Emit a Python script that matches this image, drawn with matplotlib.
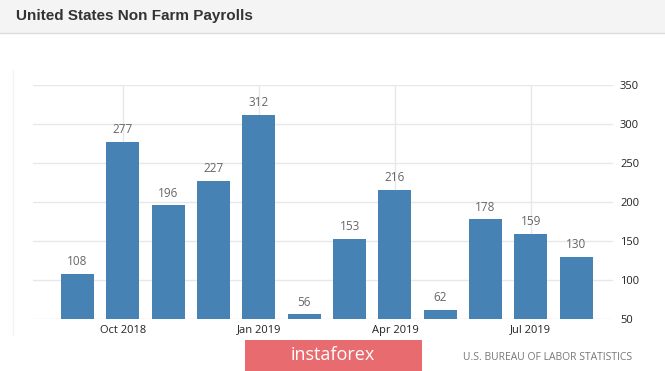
import numpy as np
import matplotlib
matplotlib.use("Agg")
import matplotlib.pyplot as plt
from matplotlib.patches import Rectangle
from matplotlib.lines import Line2D

# data (thousands of jobs), Sep 2018 .. Aug 2019
months = ["Sep 2018", "Oct 2018", "Nov 2018", "Dec 2018", "Jan 2019", "Feb 2019",
          "Mar 2019", "Apr 2019", "May 2019", "Jun 2019", "Jul 2019", "Aug 2019"]
payrolls = [108, 277, 196, 227, 312, 56, 153, 216, 62, 178, 159, 130]
tick_idx = [1, 4, 7, 10]
tick_labels = ["Oct 2018", "Jan 2019", "Apr 2019", "Jul 2019"]
y_ticks = [50, 100, 150, 200, 250, 300, 350]

W, H = 665, 371
fig = plt.figure(figsize=(W / 100, H / 100), dpi=100)
fig.patch.set_facecolor("white")

# title band
fig.patches.append(Rectangle((0, 1 - 33 / H), 1, 33 / H, transform=fig.transFigure,
                             facecolor="#f4f4f4", edgecolor="none", zorder=0))
fig.lines.append(Line2D([0, 1], [1 - 33 / H] * 2, transform=fig.transFigure,
                        color="#dcdcdc", lw=1))
fig.text(16 / W, 1 - 16 / H, "United States Non Farm Payrolls", family="Liberation Sans",
         weight="bold", size=11, color="#333333", va="center", ha="left")

# faint panel border on the left
fig.lines.append(Line2D([13 / W] * 2, [1 - 70 / H, 1 - 335 / H], transform=fig.transFigure,
                        color="#f3f3f3", lw=1))

ax = fig.add_axes([33 / W, (H - 319) / H, (613 - 33) / W, (319 - 85) / H])
x = np.arange(len(payrolls))
bars = ax.bar(x, payrolls, width=0.73, color="#4682B4", zorder=2)
for xi, v in zip(x, payrolls):
    ax.annotate(str(v), (xi, v), xytext=(0, 4), textcoords="offset points",
                ha="center", va="bottom", fontsize=8.5, color="#666666", family="Open Sans")

ax.set_xlim(-0.98, 11.81)
ax.set_ylim(50, 350)
ax.set_yticks(y_ticks)
ax.set_xticks(tick_idx)
ax.set_xticklabels(tick_labels)
ax.yaxis.tick_right()
ax.tick_params(axis="both", length=0, labelsize=8, labelcolor="#222222")
ax.tick_params(axis="y", pad=5)
ax.tick_params(axis="x", pad=4)
for lab in ax.get_xticklabels() + ax.get_yticklabels():
    lab.set_family("Open Sans")
ax.grid(True, color="#e8e8e8", lw=1, zorder=0)
for s in ax.spines.values():
    s.set_visible(False)

# watermark and source
fig.patches.append(Rectangle((245 / W, 0), (422 - 245) / W, (H - 340) / H,
                             transform=fig.transFigure, facecolor="#e86b6f",
                             edgecolor="none"))
fig.text(333 / W, 1 - 355 / H, "instaforex", color="white", size=13,
         family="Open Sans", ha="center", va="center")
fig.text(632 / W, 1 - 357 / H, "U.S. BUREAU OF LABOR STATISTICS", color="#777777",
         size=7.5, family="Open Sans", ha="right", va="center")

fig.savefig("out.png", dpi=100)
